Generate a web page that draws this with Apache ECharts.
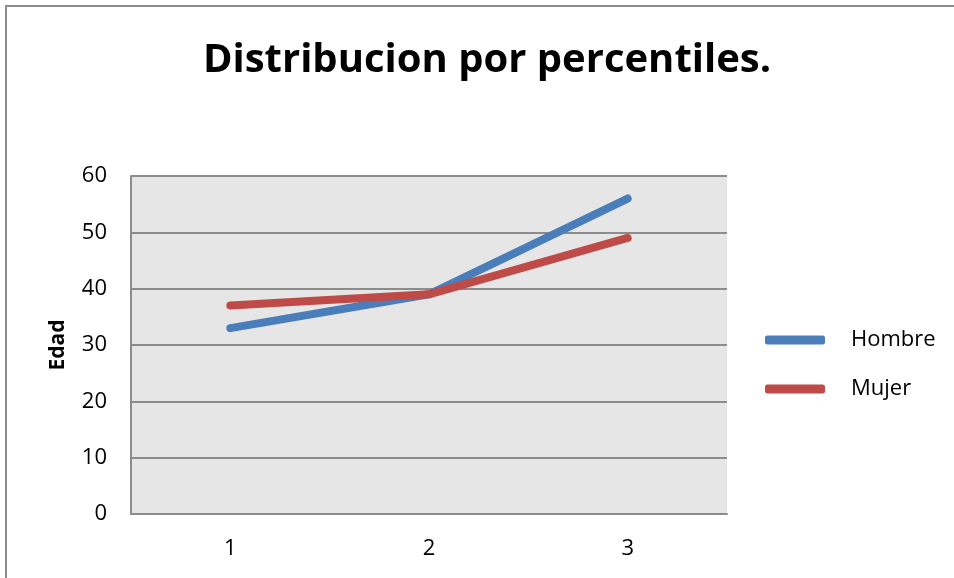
<!DOCTYPE html>
<html><head><meta charset="utf-8">
<script src="https://cdn.jsdelivr.net/npm/echarts@6/dist/echarts.min.js"></script>
<style>html,body{margin:0;padding:0;background:#fff;}#c{width:954px;height:578px;}</style>
</head><body><div id="c"></div>
<script>
const categories = ['1', '2', '3'];
const hombre = [33, 39, 56];
const mujer = [37, 39, 49];
const seriesNames = ['Hombre', 'Mujer'];
const titleText = 'Distribucion por percentiles.';
const yName = 'Edad';

const chart = echarts.init(document.getElementById('c'), null, {renderer: 'canvas'});
const font = 'Open Sans';
chart.setOption({
  animation: false,
  backgroundColor: '#fff',
  title: {
    text: titleText, left: 482, top: 36, textAlign: 'center',
    textStyle: {fontFamily: font, fontWeight: 'bold', fontSize: 40, color: '#000'}
  },
  graphic: [{
    type: 'polyline', silent: true,
    shape: {points: [[6, 600], [6, 6], [960, 6]]},
    style: {stroke: '#8c8c8c', lineWidth: 2, fill: null}
  }],
  legend: {
    orient: 'vertical', left: 765, top: 329, padding: 0, itemWidth: 60, itemHeight: 9, itemGap: 27,
    icon: 'roundRect',
    textStyle: {fontFamily: font, fontSize: 22, color: '#000', padding: [0, 0, 0, 21]},
    data: seriesNames
  },
  grid: {left: 131, right: 227, top: 176, bottom: 64, show: true, backgroundColor: '#e6e6e6', borderWidth: 0},
  xAxis: {
    type: 'category', data: categories, boundaryGap: true,
    axisLine: {show: true, lineStyle: {color: '#8c8c8c', width: 2}},
    axisTick: {show: false},
    axisLabel: {fontFamily: font, fontSize: 22, color: '#000', margin: 24}
  },
  yAxis: {
    type: 'value', min: 0, max: 60, interval: 10,
    name: yName, nameLocation: 'middle', nameGap: 62, nameRotate: 90,
    nameTextStyle: {fontFamily: font, fontWeight: 'bold', fontSize: 21, color: '#000'},
    axisLine: {show: true, lineStyle: {color: '#8c8c8c', width: 2}},
    axisTick: {show: false},
    axisLabel: {fontFamily: font, fontSize: 22, color: '#000', margin: 24},
    splitLine: {show: true, lineStyle: {color: '#8c8c8c', width: 2}}
  },
  series: [
    {name: seriesNames[0], type: 'line', data: hombre, symbol: 'none',
     color: '#4a7ebb', lineStyle: {width: 8, cap: 'round', join: 'round', color: '#4a7ebb'}},
    {name: seriesNames[1], type: 'line', data: mujer, symbol: 'none',
     color: '#be4b48', lineStyle: {width: 8, cap: 'round', join: 'round', color: '#be4b48'}}
  ]
});
</script></body></html>
